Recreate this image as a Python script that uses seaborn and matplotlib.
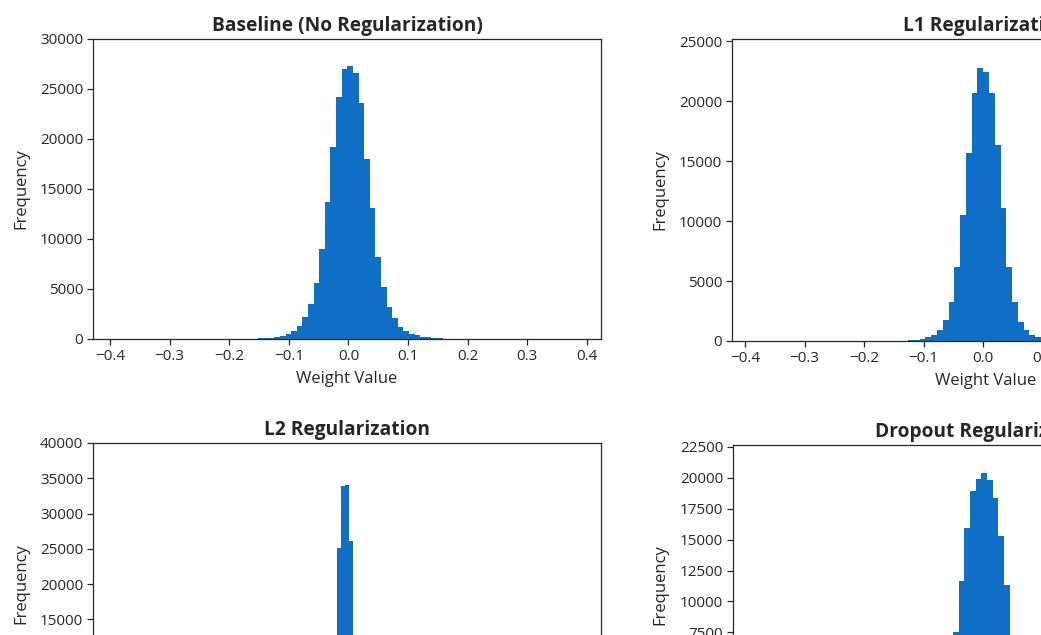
import numpy as np
import pandas as pd
import matplotlib
matplotlib.use("Agg")
import matplotlib.pyplot as plt
import seaborn as sns

# --- data (bin edges + counts per panel) ---
titles = ["Baseline (No Regularization)", "L1 Regularization",
          "L2 Regularization", "Dropout Regularization"]

# Baseline: bins of width 0.0094 starting at -0.002 - 20*0.0094
base_first_edge = -0.002 - 20 * 0.0094
base_width = 0.0094
base_counts = [10, 15, 25, 40, 60, 90, 140, 210, 320, 470,
               830, 1300, 2230, 3500, 5630, 8970, 13730, 19170, 24170, 26970,
               27300, 26570, 23570, 17970, 13070, 8230, 5230, 3230, 2070, 1230,
               800, 550, 380, 250, 160, 100, 60, 40, 25, 15, 10]

# L1
l1_first_edge = -17 * 0.0097
l1_width = 0.0097
l1_counts = [10, 15, 25, 40, 70, 110, 180, 300, 500, 920,
             1750, 3275, 6190, 10500, 15640, 20640, 22750,
             22420, 20640, 16330, 11060, 6190, 3275, 1610, 920, 500,
             330, 200, 120, 70, 40, 25, 15, 10]

# L2
l2_first_edge = 0.0008 - 9 * 0.0067
l2_width = 0.0067
l2_counts = [50, 150, 400, 1200, 4000, 12000, 25100, 33900, 34100,
             26040, 12500, 4200, 1300, 420, 150, 50]

# Dropout
do_first_edge = -0.00475 - 12 * 0.0095
do_width = 0.0095
do_counts = [40, 90, 200, 450, 1000, 2100, 4200, 7520, 11690, 15940, 18950, 19900,
             20430,
             19810, 18410, 15320, 11290, 7200, 4000, 2000, 950, 430, 190, 85, 40]

x_ticks = [-0.4, -0.3, -0.2, -0.1, 0.0, 0.1, 0.2, 0.3, 0.4]
y_ticks = [
    [0, 5000, 10000, 15000, 20000, 25000, 30000],
    [0, 5000, 10000, 15000, 20000, 25000],
    [0, 5000, 10000, 15000, 20000, 25000, 30000, 35000, 40000],
    [0, 2500, 5000, 7500, 10000, 12500, 15000, 17500, 20000, 22500],
]

panels = [
    (base_first_edge, base_width, base_counts),
    (l1_first_edge, l1_width, l1_counts),
    (l2_first_edge, l2_width, l2_counts),
    (do_first_edge, do_width, do_counts),
]

# --- style ---
sns.set_style("ticks")
plt.rcParams["font.family"] = ["Open Sans", "DejaVu Sans"]
plt.rcParams["axes.unicode_minus"] = True
bar_color = "#0f6fc6"

W, H = 1041, 635
fig = plt.figure(figsize=(W / 100, H / 100), dpi=100)

# axes boxes in pixels: left, top, right, bottom (right column runs past the crop)
boxes = [(93, 39, 601, 339), (732, 39, 1240, 341),
         (93, 443, 601, 725), (733, 445, 1241, 725)]
xlims = [(-0.4285, 0.4235), (-0.4218, 0.4312), (-0.4285, 0.4235), (-0.4218, 0.4312)]
ylims = [30000, 25170, 40000, 22660]

for i, (first, width, counts) in enumerate(panels):
    l, t, r, b = boxes[i]
    ax = fig.add_axes([l / W, 1 - b / H, (r - l) / W, (b - t) / H])
    edges = first + width * np.arange(len(counts) + 1)
    df = pd.DataFrame({"w": (edges[:-1] + edges[1:]) / 2, "n": counts})
    sns.histplot(data=df, x="w", weights="n", bins=list(edges), ax=ax,
                 color=bar_color, alpha=1, linewidth=0)
    for s in ax.spines.values():
        s.set_visible(True)
        s.set_linewidth(0.9)
    ax.set_xticks(x_ticks)
    ax.set_yticks(y_ticks[i])
    ax.set_xlim(*xlims[i])
    ax.set_ylim(0, ylims[i])
    ax.set_title(titles[i], fontsize=13.8, fontweight="bold", pad=6)
    ax.set_xlabel("Weight Value", fontsize=12, labelpad=5)
    ax.set_ylabel("Frequency", fontsize=12, labelpad=8)
    ax.tick_params(labelsize=11, length=4, width=0.9, pad=3)

fig.savefig("out.png", dpi=100)
